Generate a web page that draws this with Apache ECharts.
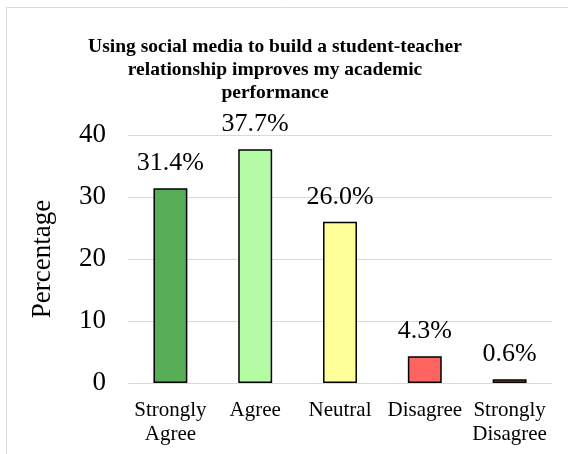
<!DOCTYPE html>
<html><head><meta charset="utf-8">
<script src="https://cdn.jsdelivr.net/npm/echarts@6/dist/echarts.min.js"></script>
<style>html,body{margin:0;padding:0;background:#fff}#c{width:568px;height:454px}</style>
</head><body><div id="c"></div>
<script>
const categories = ['Strongly\nAgree','Agree','Neutral','Disagree','Strongly\nDisagree'];
const values = [31.4, 37.7, 26.0, 4.3, 0.6];
const colors = ['#57ae57','#b3fca3','#ffff99','#ff6461','#c0502f'];
const yTicks = [0,10,20,30,40];
const F = '"Liberation Serif","Times New Roman",serif';
const chart = echarts.init(document.getElementById('c'));
chart.setOption({
  animation:false,
  graphic:[{type:'rect',shape:{x:6.5,y:7.5,width:580,height:460},style:{fill:'none',stroke:'#d9d9d9',lineWidth:1}}],
  title:{text:'Using social media to build a student-teacher\nrelationship improves my academic\nperformance',left:270,top:30,
    textAlign:'center',
    textStyle:{fontFamily:F,fontSize:19.5,fontWeight:'bold',color:'#000',lineHeight:23}},
  grid:{left:128,right:16,top:135,bottom:71},
  xAxis:{type:'category',data:categories,axisTick:{show:false},
    axisLine:{lineStyle:{color:'#d9d9d9'}},
    axisLabel:{fontFamily:F,fontSize:21,color:'#000',lineHeight:24,margin:15,interval:0}},
  yAxis:{type:'value',min:0,max:40,interval:10,name:'Percentage',nameLocation:'middle',nameGap:72,
    nameTextStyle:{fontFamily:F,fontSize:27,color:'#000'},
    axisLabel:{fontFamily:F,fontSize:27,color:'#000',margin:22},
    splitLine:{lineStyle:{color:'#d9d9d9'}}},
  series:[{type:'bar',barWidth:'40%',
    data:values.map((v,i)=>({value:v,itemStyle:{color:colors[i],borderColor:'#000',borderWidth:1.5}})),
    label:{show:true,position:'top',distance:12,fontFamily:F,fontSize:26,color:'#000',formatter:p=>p.value.toFixed(1)+'%'}}]
});
</script></body></html>
